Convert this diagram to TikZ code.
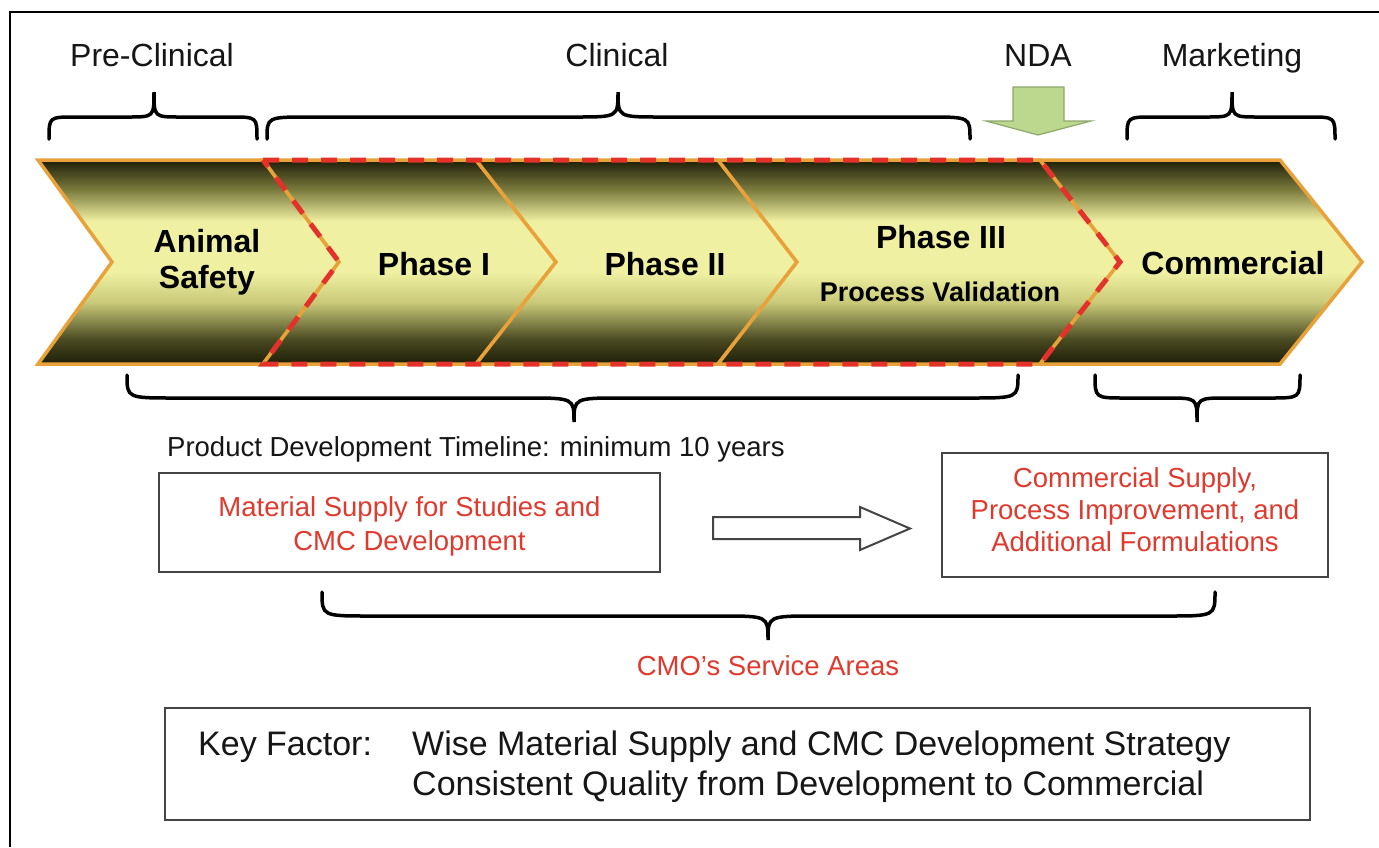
\documentclass[tikz,border=0pt]{standalone}
\usepackage{fontspec}
\setmainfont{Liberation Sans}
\definecolor{cdark}{HTML}{1E1E08}
\definecolor{cdarkish}{HTML}{4A4A22}
\definecolor{cmid}{HTML}{7E7E40}
\definecolor{cmidlight}{HTML}{C8C878}
\definecolor{clight}{HTML}{F0F0A2}
\definecolor{corange}{HTML}{E9A23A}
\definecolor{cred}{HTML}{E3322A}
\definecolor{ctxtred}{HTML}{E03A2E}
\definecolor{ctext}{HTML}{161616}
\definecolor{cgreen}{HTML}{BCD88E}
\definecolor{cgreenline}{HTML}{8DA86A}
\definecolor{cboxline}{HTML}{444444}
\pgfdeclareverticalshading{chevshade}{100bp}{color(0bp)=(cdark); color(25bp)=(cdark); color(31bp)=(cdarkish); color(40bp)=(cmidlight); color(47.5bp)=(clight); color(60bp)=(clight); color(67.5bp)=(cmid); color(75bp)=(cdark); color(100bp)=(cdark)}
\newcommand{\curlybrace}[7]{%
  \draw[bracestyle] (#1,#4) .. controls (#1,#5) .. (#1+#7,#5) -- (#3-#7,#5)
    .. controls (#3,#5) .. (#3,#6) .. controls (#3,#5) .. (#3+#7,#5)
    -- (#2-#7,#5) .. controls (#2,#5) .. (#2,#4);}
\tikzset{
  chev/.style={shade, shading=chevshade, draw=corange, line width=3.5pt, line join=miter},
  reddash/.style={draw=cred, line width=5pt, dash pattern=on 16pt off 13pt, line join=miter},
  bracestyle/.style={draw=black, line width=3.5pt, line cap=round},
  hdr/.style={anchor=base, inner sep=0pt, text=ctext, font=\fontsize{32}{38}\selectfont},
  chevlbl/.style={anchor=base, inner sep=0pt, text=black, font=\bfseries\fontsize{32}{38}\selectfont},
  chevsub/.style={anchor=base, inner sep=0pt, text=black, font=\bfseries\fontsize{27}{32}\selectfont},
  redtxt/.style={anchor=base, inner sep=0pt, text=ctxtred, font=\fontsize{27.5}{33}\selectfont},
  plaintxt/.style={anchor=base west, inner sep=0pt, text=ctext, font=\fontsize{27.5}{33}\selectfont},
  keytxt/.style={anchor=base west, inner sep=0pt, text=ctext, font=\fontsize{34}{40}\selectfont},
  boxst/.style={draw=cboxline, line width=2.2pt, fill=white, inner sep=0pt},
}
\begin{document}
\begin{tikzpicture}[x=1pt, y=-1pt]
\useasboundingbox (0,0) rectangle (1379,847);
\fill[white] (0,0) rectangle (1379,847);
% frame
\draw[line width=2pt, black] (10,847) -- (10,12) -- (1379,12);

% chevrons
\path[chev] (38,160) -- (263,160) -- (339,262) -- (263,364) -- (38,364) -- (112,262) -- cycle;
\path[chev] (263,160) -- (476,160) -- (556,262) -- (476,364) -- (263,364) -- (339,262) -- cycle;
\path[chev] (476,160) -- (718,160) -- (797,262) -- (718,364) -- (476,364) -- (556,262) -- cycle;
\path[chev] (718,160) -- (1040,160) -- (1120,262) -- (1040,364) -- (718,364) -- (797,262) -- cycle;
\path[chev] (1040,160) -- (1280,160) -- (1362,262) -- (1280,364) -- (1040,364) -- (1120,262) -- cycle;
% red dashed clinical outline
\path[reddash] (263,160) -- (1040,160) -- (1120,262) -- (1040,364) -- (263,364) -- (339,262) -- cycle;

% chevron labels
\node[chevlbl] (animal) at (207,252) {Animal};
\node[chevlbl] (safety) at (207,288) {Safety};
\node[chevlbl] (ph1) at (434,275) {Phase I};
\node[chevlbl] (ph2) at (665,275) {Phase II};
\node[chevlbl] (ph3) at (941,248) {Phase III};
\node[chevsub] (pv) at (940,301) {Process Validation};
\node[chevlbl] (comm) at (1233,274) {Commercial};

% header labels
\node[hdr] (precl) at (152,66) {Pre-Clinical};
\node[hdr] (clin) at (617,66) {Clinical};
\node[hdr] (nda) at (1038,66) {NDA};
\node[hdr] (mkt) at (1232,66) {Marketing};

% top braces
\curlybrace{49}{257}{154}{139}{117}{92}{26}
\curlybrace{267}{970}{618}{139}{117}{92}{42}
\curlybrace{1127}{1335}{1232}{139}{117}{92}{26}

% NDA arrow
\path[fill=cgreen, draw=cgreenline, line width=1.2pt, line join=miter]
  (1013,87) -- (1064,87) -- (1064,121) -- (1091,121) -- (1038,135) -- (986,121) -- (1013,121) -- cycle;

% bottom braces
\curlybrace{127}{1018}{574}{375}{398}{422}{48}
\curlybrace{1095}{1300}{1197}{375}{398}{422}{30}

% timeline text
\node[plaintxt] (timeline) at (167,456) {Product Development Timeline: minimum 10 years};

% boxes
\node[boxst, minimum width=501pt, minimum height=99pt] (lbox) at (409.5,522.5) {};
\node[redtxt] (l1) at (409.5,516) {Material Supply for Studies and};
\node[redtxt] (l2) at (409.5,550) {CMC Development};

\node[boxst, minimum width=386pt, minimum height=124pt] (rbox) at (1135,515) {};
\node[redtxt] (r1) at (1135,487) {Commercial Supply,};
\node[redtxt] (r2) at (1135,519) {Process Improvement, and};
\node[redtxt] (r3) at (1135,551) {Additional Formulations};

% hollow arrow between boxes
\path[draw=cboxline, line width=2pt, fill=white, line join=miter]
  (713,517) -- (860,517) -- (860,507) -- (910,528.5) -- (860,550) -- (860,539) -- (713,539) -- cycle;

% CMO brace
\curlybrace{322}{1215}{768}{592}{616}{640}{48}
\node[redtxt] (cmo) at (768,675) {CMO's Service Areas};

% key factor box
\node[boxst, minimum width=1145pt, minimum height=112pt] (kbox) at (737.5,764) {};
\node[keytxt] (kf) at (198,755) {Key Factor:};
\node[keytxt] (k1) at (412,755) {Wise Material Supply and CMC Development Strategy};
\node[keytxt] (k2) at (412,795) {Consistent Quality from Development to Commercial};
\end{tikzpicture}
\end{document}
